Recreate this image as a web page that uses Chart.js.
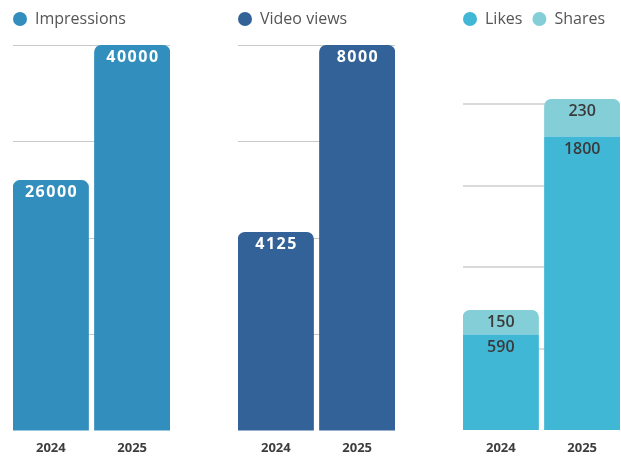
<!DOCTYPE html>
<html><head><meta charset="utf-8">
<script src="https://cdn.jsdelivr.net/npm/chart.js@4"></script>
<style>
html,body{margin:0;padding:0;background:#fff;width:621px;height:458px;overflow:hidden}
canvas{position:absolute;top:0}
</style></head><body>
<canvas id="c1" width="167" height="458" style="left:3px"></canvas>
<canvas id="c2" width="167" height="458" style="left:228px"></canvas>
<canvas id="c3" width="167" height="458" style="left:453px"></canvas>
<script>
// ---- data ----
const years = ['2024', '2025'];
const impressions = [26000, 40000];
const videoViews = [4125, 8000];
const likes = [590, 1800];
const shares = [150, 230];
// y axis ticks (gridlines) and top of each axis
const impressionsTicks = [0, 10000, 20000, 30000, 40000];
const videoTicks = [0, 2000, 4000, 6000, 8000];
const engagementTicks = [0, 500, 1000, 1500, 2000];
const impressionsMax = 40000;
const videoMax = 8000;
const engagementMax = 2360;

const FONT = "'Open Sans', 'Noto Sans', sans-serif";

const valueLabelPlugin = {
  id: 'valueLabels',
  afterDatasetsDraw(chart, args, opts) {
    const ctx = chart.ctx;
    chart.data.datasets.forEach((ds, di) => {
      const meta = chart.getDatasetMeta(di);
      meta.data.forEach((el, i) => {
        const v = ds.data[i].y;
        ctx.save();
        ctx.fillStyle = opts.color;
        ctx.font = opts.font;
        ctx.textAlign = 'center';
        ctx.textBaseline = 'alphabetic';
        const sp = opts.spacing || 0;
        ctx.letterSpacing = sp + 'px';
        ctx.fillText(String(v), el.x + sp / 2, el.y + opts.offset);
        ctx.restore();
      });
    });
  }
};

const legendSpacer = {
  id: 'legendSpacer',
  beforeInit(chart) {
    const fit = chart.legend.fit;
    chart.legend.fit = function () { fit.call(this); this.height += 8; };
  }
};

function toPoints(arr) { return arr.map((v, i) => ({ x: i, y: v })); }

function makeChart(id, datasets, yMax, yTicks, gridColor, gridWidth, labelOpts) {
  return new Chart(document.getElementById(id), {
    type: 'bar',
    data: { datasets },
    options: {
      responsive: false,
      animation: false,
      layout: { padding: { top: 1, bottom: 0, left: 0, right: 0 } },
      plugins: {
        legend: {
          display: true, position: 'top', align: 'start',
          labels: {
            usePointStyle: true, pointStyle: 'circle', pointStyleWidth: 14,
            boxHeight: 10, boxWidth: 14, padding: 10, color: '#555',
            font: { family: FONT, size: 16 }
          }
        },
        tooltip: { enabled: false },
        valueLabels: labelOpts
      },
      scales: {
        x: {
          type: 'linear', min: -0.465, max: 1.465, offset: false, bounds: 'data',
          stacked: true,
          grid: { display: false, drawTicks: false }, border: { display: false },
          afterBuildTicks: s => { s.ticks = years.map((_, i) => ({ value: i })); },
          afterFit: s => { s.height = 27; },
          ticks: {
            callback: v => years[v], color: '#3d3d3d', padding: 9,
            autoSkip: false, maxRotation: 0,
            font: { family: FONT, size: 13, weight: 'bold' }
          }
        },
        y: {
          min: 0, max: yMax, stacked: true,
          afterFit: s => { s.width = 10; },
          afterBuildTicks: s => { s.ticks = yTicks.map(v => ({ value: v })); },
          border: { display: false },
          ticks: { display: false },
          grid: {
            drawTicks: false, lineWidth: gridWidth,
            color: c => (c.tick && c.tick.value > 0) ? gridColor : 'rgba(0,0,0,0)'
          }
        }
      }
    },
    plugins: [valueLabelPlugin, legendSpacer]
  });
}

const barCommon = { borderRadius: 7, barPercentage: 0.935, categoryPercentage: 1 };

makeChart('c1', [
  Object.assign({ label: 'Impressions', data: toPoints(impressions), backgroundColor: '#328EBC' }, barCommon)
], impressionsMax, impressionsTicks, '#c8c8c8', 1, { color: '#ffffff', font: "bold 16px " + FONT, spacing: 1.5, offset: 17 });

makeChart('c2', [
  Object.assign({ label: 'Video views', data: toPoints(videoViews), backgroundColor: '#326298' }, barCommon)
], videoMax, videoTicks, '#c8c8c8', 1, { color: '#ffffff', font: "bold 16px " + FONT, spacing: 1.5, offset: 17 });

makeChart('c3', [
  Object.assign({ label: 'Likes', data: toPoints(likes), backgroundColor: '#40B7D5' }, barCommon),
  Object.assign({ label: 'Shares', data: toPoints(shares), backgroundColor: '#84CED8' }, barCommon)
], engagementMax, engagementTicks, '#dadada', 2, { color: '#3a3a3a', font: "600 16px " + FONT, spacing: 0, offset: 17.5 });
</script>
</body></html>
